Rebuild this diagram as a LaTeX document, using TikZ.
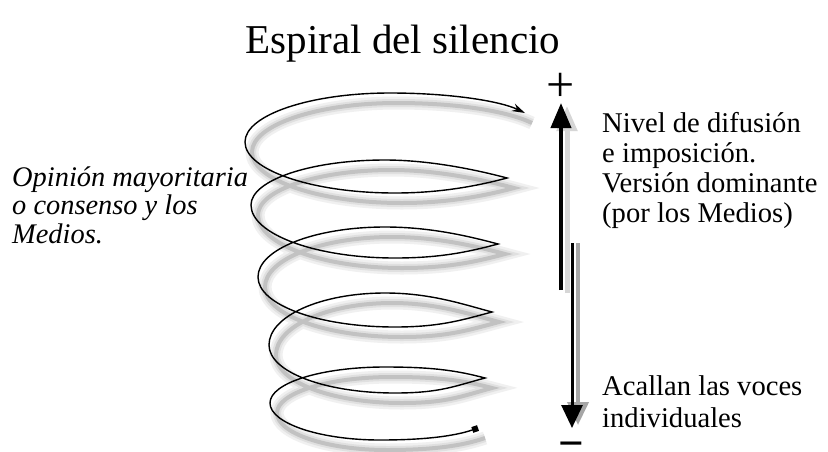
\documentclass[tikz,border=0pt]{standalone}
\usepackage{fontspec}
\setmainfont{Liberation Serif}
\usetikzlibrary{arrows.meta}
\begin{document}
\begin{tikzpicture}[x=1pt,y=-1pt,
  shA/.style={line width=13pt, black!6, shift={(7,10)}},
  shB/.style={line width=8pt, black!12, shift={(7,10)}},
  shC/.style={line width=4pt, black!24, shift={(7,10)}},
  spiralline/.style={line width=1.4pt, black, {Square[length=6pt,width=6pt]}-{Stealth[length=13pt,width=8pt]}},
  body/.style={font=\fontsize{28.6}{30}\selectfont, align=left, anchor=base west, inner sep=0pt},
]
\useasboundingbox (0,0) rectangle (828,451);
\fill[white] (0,0) rectangle (828,451);

% arrow endpoints
\coordinate (upS) at (561,290);
\coordinate (upE) at (561,103);
\coordinate (dnS) at (572,243);
\coordinate (dnE) at (572,428);

% arrow shadows
\draw[line width=5pt, black!16, -{Triangle[length=25pt,width=20pt]}]
  ([xshift=6pt,yshift=-3pt]upS) -- ([xshift=6pt,yshift=-3pt]upE);
\draw[line width=4pt, black!35, -{Triangle[length=23pt,width=21pt]}]
  ([xshift=6pt]dnS) -- ([xshift=6pt,yshift=3pt]dnE);

% spiral (shadow layers, then line)
\foreach \s in {shA,shB,shC,spiralline}{
\draw[\s] (478,428) .. controls (455,436) and (425,440) .. (380,440)
 .. controls (319,440) and (270,423) .. (270,403)
 .. controls (270,383) and (321,367) .. (385,367)
 .. controls (430,367) and (455,370) .. (485,378)
 .. controls (455,386) and (440,393) .. (395,393)
 .. controls (325,393) and (269,372) .. (269,345)
 .. controls (269,316) and (321,293) .. (385,293)
 .. controls (430,293) and (462,304) .. (492,312)
 .. controls (462,320) and (440,327) .. (395,327)
 .. controls (319,327) and (258,305) .. (258,277)
 .. controls (258,249) and (315,227) .. (385,227)
 .. controls (430,227) and (468,236) .. (498,244)
 .. controls (468,252) and (440,258) .. (395,258)
 .. controls (315,258) and (251,234) .. (251,205)
 .. controls (251,180) and (311,160) .. (385,160)
 .. controls (430,160) and (477,170) .. (507,178)
 .. controls (477,186) and (440,193) .. (395,193)
 .. controls (312,193) and (245,170) .. (245,142)
 .. controls (245,115) and (310,93) .. (390,93)
 .. controls (450,93) and (500,101) .. (525,113);
}

% arrows
\draw[line width=4pt, -{Triangle[length=25pt,width=20pt]}] (upS) -- (upE);
\draw[line width=3pt, -{Triangle[length=23pt,width=21pt]}] (dnS) -- (dnE);

% texts (base anchor = baseline of the last line)
\node[font=\fontsize{41}{41}\selectfont, anchor=base, inner sep=0pt] (title) at (403,53) {Espiral del silencio};
\node[font=\itshape\fontsize{28.4}{28.5}\selectfont, align=left, anchor=base west, inner sep=0pt] (left) at (12,243) {Opinión mayoritaria\\o consenso y los\\Medios.};
\node[body] (upper) at (602,222) {Nivel de difusión\\e imposición.\\Versión dominante\\(por los Medios)};
\node[body, font=\fontsize{28.6}{31.5}\selectfont] (lower) at (602,427) {Acallan las voces\\individuales};
\node[font=\fontsize{50}{50}\selectfont, inner sep=0pt] (plus) at (561,87) {+};
\node[font=\bfseries\fontsize{45}{45}\selectfont, inner sep=0pt, anchor=base] (minus) at (571,458) {−};
\end{tikzpicture}
\end{document}
